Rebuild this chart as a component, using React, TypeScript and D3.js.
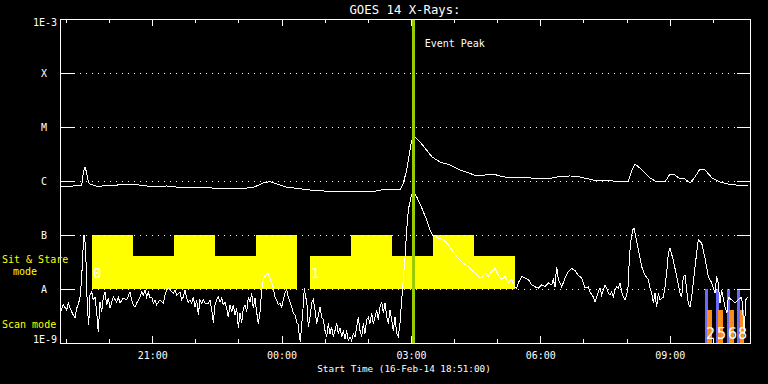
import React from 'react';
import * as d3 from 'd3';

const TITLE = 'GOES 14 X-Rays:';
const X_TITLE = 'Start Time (16-Feb-14 18:51:00)';
const START_CLOCK_HOUR = 18 + 51 / 60;
const SPAN_HOURS = 16;
const EVENT_PEAK_HOUR = 8.2;

const levelValues = [1e-3, 1e-4, 1e-5, 1e-6, 1e-7, 1e-8, 1e-9];
const levelLabels = ['1E-3', 'X', 'M', 'C', 'B', 'A', '1E-9'];
const gridLevels = [1e-4, 1e-5, 1e-6, 1e-7, 1e-8];

// GOES 1-8 Å channel: [hours since start, W/m²]
const longChannel: [number, number][] = [
  [0.016, 8.1e-7], [0.155, 7.8e-7], [0.308, 8.1e-7], [0.503, 8.4e-7], [0.54, 1.41e-6], [0.58, 1.82e-6],
  [0.619, 1.41e-6], [0.656, 9.6e-7], [0.696, 8.8e-7], [0.888, 7.8e-7], [1.083, 8.4e-7], [1.315, 8.4e-7],
  [1.584, 8.8e-7], [1.855, 8.4e-7], [2.163, 7.8e-7], [2.474, 8.1e-7], [2.627, 7.8e-7], [2.938, 7.5e-7],
  [3.402, 7.5e-7], [3.865, 7.2e-7], [4.25, 7.3e-7], [4.482, 7.6e-7], [4.714, 9.2e-7], [4.87, 9.7e-7],
  [5.025, 8.8e-7], [5.257, 7.7e-7], [5.489, 7.3e-7], [5.797, 6.8e-7], [6.145, 6.5e-7], [6.609, 6.3e-7],
  [7.072, 6.3e-7], [7.304, 6.5e-7], [7.536, 7.0e-7], [7.884, 6.9e-7], [7.961, 9.1e-7], [8.039, 1.6e-6],
  [8.155, 5.7e-6], [8.232, 6.6e-6], [8.348, 5.3e-6], [8.626, 2.8e-6], [8.812, 2.25e-6], [9.043, 1.98e-6],
  [9.275, 1.6e-6], [9.67, 1.24e-6], [10.041, 1.35e-6], [10.272, 1.19e-6], [10.899, 1.14e-6], [11.293, 1.09e-6],
  [11.525, 1.19e-6], [11.826, 1.24e-6], [12.058, 1.19e-6], [12.359, 1.04e-6], [12.823, 1.0e-6], [13.171, 9.6e-7],
  [13.264, 1.6e-6], [13.333, 2.07e-6], [13.496, 1.6e-6], [13.681, 1.14e-6], [13.843, 9.6e-7], [14.029, 9.6e-7],
  [14.145, 1.35e-6], [14.261, 1.29e-6], [14.377, 1.09e-6], [14.493, 1.09e-6], [14.609, 9.2e-7], [14.725, 1.19e-6],
  [14.841, 1.67e-6], [14.957, 1.6e-6], [15.119, 1.14e-6], [15.304, 9.6e-7], [15.49, 8.8e-7], [15.699, 8.4e-7],
  [15.954, 8.4e-7],
];

// GOES 0.5-4 Å channel: [hours since start, W/m²]
const shortChannel: [number, number][] = [
  [0, 3.6e-9], [0.077, 5.1e-9], [0.155, 4.1e-9], [0.192, 5.5e-9], [0.232, 4.4e-9], [0.308, 3.3e-9], [0.348, 2.9e-9],
  [0.387, 4.4e-9], [0.424, 5.1e-9], [0.464, 7.1e-9], [0.503, 1.6e-8], [0.526, 4.3e-8], [0.557, 1.0e-7], [0.58, 7.4e-8],
  [0.603, 3.2e-8], [0.619, 1.0e-8], [0.642, 3.7e-9], [0.666, 2.2e-9], [0.696, 7.7e-9], [0.735, 8.8e-9], [0.772, 6.3e-9],
  [0.812, 7.1e-9], [0.851, 3.7e-9], [0.888, 1.6e-9], [0.928, 5.7e-9], [0.967, 3.7e-9], [1.004, 7.1e-9], [1.043, 8.8e-9],
  [1.083, 5.1e-9], [1.12, 6.8e-9], [1.159, 4.4e-9], [1.199, 5.7e-9], [1.236, 7.1e-9], [1.315, 5.7e-9], [1.352, 7.1e-9],
  [1.391, 5.5e-9], [1.468, 6.8e-9], [1.547, 6.3e-9], [1.623, 8.8e-9], [1.663, 6.3e-9], [1.7, 5.1e-9], [1.739, 4.6e-9],
  [1.779, 5.5e-9], [1.855, 7.1e-9], [1.895, 8.8e-9], [1.932, 7.7e-9], [1.971, 9.6e-9], [2.01, 7.1e-9], [2.048, 8.8e-9],
  [2.087, 6.8e-9], [2.126, 7.1e-9], [2.163, 5.5e-9], [2.203, 6.3e-9], [2.242, 5.1e-9], [2.319, 6.3e-9], [2.396, 5.5e-9],
  [2.435, 7.7e-9], [2.474, 9.6e-9], [2.511, 1.04e-8], [2.551, 9.6e-9], [2.59, 8.8e-9], [2.627, 8.4e-9], [2.667, 9.6e-9],
  [2.706, 7.7e-9], [2.783, 8.8e-9], [2.822, 6.3e-9], [2.859, 7.1e-9], [2.899, 9.6e-9], [2.938, 6.8e-9], [2.975, 5.7e-9],
  [3.014, 6.3e-9], [3.054, 5.5e-9], [3.091, 7.1e-9], [3.13, 4.6e-9], [3.17, 6.3e-9], [3.207, 3.3e-9], [3.246, 6.3e-9],
  [3.286, 5.5e-9], [3.323, 6.3e-9], [3.362, 5.5e-9], [3.439, 5.5e-9], [3.478, 6.3e-9], [3.518, 4.1e-9], [3.555, 2.4e-9],
  [3.594, 5.1e-9], [3.634, 6.3e-9], [3.671, 7.1e-9], [3.71, 5.7e-9], [3.75, 6.8e-9], [3.787, 5.1e-9], [3.826, 5.7e-9],
  [3.866, 4.4e-9], [3.903, 3.0e-9], [3.942, 5.1e-9], [3.982, 3.7e-9], [4.019, 5.1e-9], [4.058, 3.3e-9], [4.097, 4.4e-9],
  [4.135, 1.9e-9], [4.174, 3.6e-9], [4.213, 2.4e-9], [4.25, 4.4e-9], [4.29, 5.1e-9], [4.329, 3.7e-9], [4.366, 7.1e-9],
  [4.406, 5.7e-9], [4.445, 8.4e-9], [4.482, 4.4e-9], [4.522, 6.8e-9], [4.561, 3.7e-9], [4.598, 2.3e-9], [4.638, 3.7e-9],
  [4.677, 9.6e-9], [4.714, 1.5e-8], [4.754, 1.7e-8], [4.816, 2.0e-8], [4.87, 1.6e-8], [4.909, 1.3e-8], [4.946, 1.04e-8],
  [4.986, 7.1e-9], [5.025, 6.3e-9], [5.062, 5.1e-9], [5.101, 5.5e-9], [5.141, 4.6e-9], [5.178, 6.3e-9], [5.217, 8.4e-9],
  [5.257, 9.6e-9], [5.294, 7.1e-9], [5.333, 5.7e-9], [5.373, 4.6e-9], [5.41, 3.6e-9], [5.449, 3.3e-9], [5.489, 2.4e-9],
  [5.526, 2.2e-9], [5.549, 1.3e-9], [5.572, 1.05e-9], [5.605, 2.2e-9], [5.642, 5.1e-9], [5.665, 1.04e-8], [5.698, 6.8e-9],
  [5.72, 6.3e-9], [5.758, 2.0e-9], [5.797, 3.0e-9], [5.836, 5.5e-9], [5.874, 6.3e-9], [5.913, 4.1e-9], [5.952, 2.3e-9],
  [5.99, 3.3e-9], [6.029, 4.6e-9], [6.068, 3.0e-9], [6.106, 2.7e-9], [6.145, 1.7e-9], [6.184, 1.3e-9], [6.222, 2.3e-9],
  [6.261, 1.5e-9], [6.3, 2.0e-9], [6.338, 1.3e-9], [6.377, 1.7e-9], [6.416, 2.3e-9], [6.453, 1.5e-9], [6.493, 1.9e-9],
  [6.532, 1.3e-9], [6.569, 1.7e-9], [6.609, 1.2e-9], [6.648, 1.7e-9], [6.685, 1.1e-9], [6.725, 1.3e-9], [6.764, 1.1e-9],
  [6.801, 1.5e-9], [6.841, 1.3e-9], [6.88, 2.0e-9], [6.917, 3.0e-9], [6.957, 1.7e-9], [6.996, 1.3e-9], [7.033, 2.3e-9],
  [7.072, 1.5e-9], [7.112, 2.7e-9], [7.149, 3.0e-9], [7.188, 2.3e-9], [7.228, 3.6e-9], [7.265, 2.3e-9], [7.304, 3.0e-9],
  [7.344, 4.1e-9], [7.381, 2.7e-9], [7.42, 4.6e-9], [7.46, 5.7e-9], [7.497, 3.6e-9], [7.536, 5.5e-9], [7.576, 3.0e-9],
  [7.613, 2.3e-9], [7.652, 4.1e-9], [7.692, 2.7e-9], [7.729, 1.7e-9], [7.768, 3.0e-9], [7.808, 1.5e-9], [7.845, 1.3e-9],
  [7.884, 2.3e-9], [7.923, 6.3e-9], [7.961, 1.5e-8], [8.0, 3.9e-8], [8.039, 1.24e-7], [8.077, 2.9e-7], [8.139, 5.1e-7],
  [8.186, 6.3e-7], [8.271, 5.1e-7], [8.387, 3.2e-7], [8.503, 1.9e-7], [8.58, 1.24e-7], [8.656, 9.2e-8], [8.696, 1.0e-7],
  [8.772, 8.8e-8], [8.888, 8.1e-8], [8.967, 7.1e-8], [9.043, 6.0e-8], [9.12, 4.8e-8], [9.236, 3.7e-8], [9.352, 3.0e-8],
  [9.468, 2.6e-8], [9.584, 2.1e-8], [9.7, 1.7e-8], [9.778, 1.6e-8], [9.855, 2.0e-8], [9.932, 1.7e-8], [10.009, 2.1e-8],
  [10.087, 2.4e-8], [10.164, 1.8e-8], [10.242, 1.5e-8], [10.319, 1.7e-8], [10.396, 1.3e-8], [10.473, 1.5e-8],
  [10.551, 1.1e-8], [10.59, 1.04e-8], [10.628, 1.3e-8], [10.705, 1.7e-8], [10.783, 1.6e-8], [10.859, 1.5e-8],
  [10.938, 1.2e-8], [11.014, 1.1e-8], [11.091, 1.04e-8], [11.17, 1.2e-8], [11.246, 1.1e-8], [11.323, 1.3e-8],
  [11.401, 1.2e-8], [11.439, 1.5e-8], [11.478, 1.1e-8], [11.517, 2.6e-8], [11.555, 1.5e-8], [11.594, 1.3e-8],
  [11.633, 1.1e-8], [11.67, 1.3e-8], [11.71, 1.6e-8], [11.787, 2.1e-8], [11.865, 2.4e-8], [11.942, 2.2e-8],
  [12.019, 1.8e-8], [12.097, 1.6e-8], [12.135, 1.3e-8], [12.174, 1.04e-8], [12.251, 1.1e-8], [12.29, 8.8e-9],
  [12.366, 7.1e-9], [12.406, 5.7e-9], [12.445, 7.1e-9], [12.482, 8.8e-9], [12.522, 1.04e-8], [12.561, 7.7e-9],
  [12.598, 9.6e-9], [12.638, 1.2e-8], [12.677, 1.04e-8], [12.714, 8.4e-9], [12.754, 7.7e-9], [12.793, 8.8e-9],
  [12.83, 7.1e-9], [12.87, 9.6e-9], [12.909, 1.1e-8], [12.946, 1.04e-8], [12.986, 1.3e-8], [13.025, 8.8e-9],
  [13.062, 7.1e-9], [13.101, 6.3e-9], [13.141, 7.7e-9], [13.178, 1.2e-8], [13.201, 3.7e-8], [13.233, 7.4e-8],
  [13.28, 1.24e-7], [13.31, 1.35e-7], [13.356, 8.8e-8], [13.41, 5.3e-8], [13.488, 2.6e-8], [13.565, 1.8e-8],
  [13.642, 1.5e-8], [13.681, 1.04e-8], [13.72, 8.4e-9], [13.757, 5.5e-9], [13.797, 8.4e-9], [13.836, 4.6e-9],
  [13.874, 8.4e-9], [13.913, 6.3e-9], [13.99, 7.1e-9], [14.029, 1.1e-8], [14.068, 2.0e-8], [14.106, 4.6e-8],
  [14.145, 5.7e-8], [14.222, 3.4e-8], [14.3, 1.7e-8], [14.377, 8.4e-9], [14.416, 7.1e-9], [14.454, 1.7e-8],
  [14.493, 1.8e-8], [14.532, 9.6e-9], [14.569, 5.5e-9], [14.609, 4.6e-9], [14.648, 7.1e-9], [14.725, 2.6e-8],
  [14.801, 8.1e-8], [14.88, 7.1e-8], [14.957, 3.7e-8], [15.033, 1.7e-8], [15.112, 1.3e-8], [15.188, 8.4e-9],
  [15.227, 1.7e-8], [15.264, 1.3e-8], [15.304, 5.5e-9], [15.343, 9.6e-9], [15.42, 4.6e-9], [15.466, 3.6e-9],
  [15.496, 7.1e-9], [15.575, 6.3e-9], [15.652, 5.5e-9], [15.729, 6.3e-9], [15.809, 7.1e-9], [15.868, 1.5e-9],
  [15.9, 6.3e-9], [15.954, 7.1e-9],
];

// Sit & Stare observation blocks: [start hour, end hour, top flux level]
const sitStareBlocks: [number, number, number][] = [
  [0.742, 1.693, 1e-7], [1.693, 2.643, 4.1e-8], [2.643, 3.594, 1e-7], [3.594, 4.545, 4.1e-8], [4.545, 5.496, 1e-7],
  [5.797, 6.748, 4.1e-8], [6.748, 7.699, 1e-7], [7.699, 8.649, 4.1e-8], [8.649, 9.6, 1e-7], [9.6, 10.551, 4.1e-8],
];
const sitStareIds = ['0', '1'];
const sitStareIdHours = [0.742, 5.797];

// Scan mode rasters
const scanBlue: [number, number][] = [[14.957, 15.03], [15.212, 15.285], [15.467, 15.54], [15.699, 15.772]];
const scanOrange: [number, number][] = [[15.003, 15.12], [15.258, 15.374], [15.514, 15.62], [15.768, 15.868]];
const scanIds = ['2', '5', '6', '8'];

const L = 60, R = 750, T = 19, B = 343;
const FONT = "'DejaVu Sans Mono', monospace";

export default function App() {
  const x = d3.scaleLinear().domain([0, SPAN_HOURS]).range([L, R]);
  const y = d3.scaleLog().domain([1e-9, 1e-3]).range([B, T]);
  const line = d3.line<[number, number]>().x(d => x(d[0])).y(d => y(d[1]));

  const firstTick = Math.ceil(START_CLOCK_HOUR) - START_CLOCK_HOUR;
  const ticks = d3.range(0, SPAN_HOURS).map(i => {
    const h = firstTick + i;
    const clock = (Math.ceil(START_CLOCK_HOUR) + i) % 24;
    return { h, clock, major: clock % 3 === 0 };
  }).filter(t => t.h <= SPAN_HOURS);

  const labelY = (v: number, i: number) => {
    if (i === 0) return y(v) + 4;
    if (i === levelValues.length - 1) return y(v) - 3;
    return y(v) + 1;
  };

  return (
    <svg width={768} height={384} style={{ position: 'absolute', left: 0, top: 0, background: '#000' }}>
      <rect x={0} y={0} width={768} height={384} fill="#000" />
      {sitStareBlocks.map((b, i) => (
        <rect key={'ss' + i} x={x(b[0])} y={y(b[2])} width={x(b[1]) - x(b[0])} height={y(1e-8) - y(b[2])} fill="#ffff00" shapeRendering="crispEdges" />
      ))}
      {sitStareIds.map((t, i) => (
        <text key={'sid' + i} x={x(sitStareIdHours[i]) + 1} y={y(1e-8) - 11} fill="#fff" fontFamily={FONT} fontSize={14}>{t}</text>
      ))}
      {scanBlue.map((b, i) => (
        <rect key={'sb' + i} x={x(b[0])} y={y(1e-8)} width={x(b[1]) - x(b[0])} height={y(1e-9) - y(1e-8)} fill="#6a6aff" shapeRendering="crispEdges" />
      ))}
      {scanOrange.map((b, i) => (
        <rect key={'so' + i} x={x(b[0])} y={y(4.1e-9)} width={x(b[1]) - x(b[0])} height={y(1e-9) - y(4.1e-9)} fill="#ff8c1a" shapeRendering="crispEdges" />
      ))}
      {scanIds.map((t, i) => (
        <text key={'sc' + i} x={x(scanBlue[i][0]) + 1} y={B - 4} fill="#fff" fontFamily={FONT} fontSize={15}>{t}</text>
      ))}
      {gridLevels.map((v, i) => (
        <g key={'g' + i} shapeRendering="crispEdges">
          <line x1={L + 14} x2={R - 13} y1={y(v)} y2={y(v)} stroke="#fff" strokeDasharray="1,5" />
          <line x1={L} x2={L + 14} y1={y(v)} y2={y(v)} stroke="#fff" />
          <line x1={R - 13} x2={R} y1={y(v)} y2={y(v)} stroke="#fff" />
        </g>
      ))}
      <path d={line(longChannel) || ''} fill="none" stroke="#fff" strokeWidth={1} shapeRendering="crispEdges" />
      <path d={line(shortChannel) || ''} fill="none" stroke="#fff" strokeWidth={1} shapeRendering="crispEdges" />
      <line x1={x(EVENT_PEAK_HOUR)} x2={x(EVENT_PEAK_HOUR)} y1={T} y2={B} stroke="#99cc00" strokeWidth={3} shapeRendering="crispEdges" />
      <text x={x(EVENT_PEAK_HOUR) + 11} y={47} fill="#fff" fontFamily={FONT} fontSize={10}>Event Peak</text>
      <rect x={L} y={T} width={R - L} height={B - T} fill="none" stroke="#fff" shapeRendering="crispEdges" />
      {ticks.map((t, i) => (
        <g key={'t' + i} shapeRendering="crispEdges">
          <line x1={x(t.h)} x2={x(t.h)} y1={B} y2={B - (t.major ? 7 : 4)} stroke="#fff" />
          <line x1={x(t.h)} x2={x(t.h)} y1={T} y2={T + (t.major ? 7 : 4)} stroke="#fff" />
          {t.major && (
            <text x={x(t.h)} y={359} fill="#fff" fontFamily={FONT} fontSize={10} textAnchor="middle">
              {String(t.clock).padStart(2, '0') + ':00'}
            </text>
          )}
        </g>
      ))}
      {levelValues.map((v, i) => (
        <text key={'yl' + i} x={i === 0 || i === levelValues.length - 1 ? 57 : 44} y={labelY(v, i)} fill="#fff" fontFamily={FONT} fontSize={10}
          textAnchor={i === 0 || i === levelValues.length - 1 ? 'end' : 'middle'} dominantBaseline="middle">{levelLabels[i]}</text>
      ))}
      <text x={2} y={263} fill="#ffff00" fontFamily={FONT} fontSize={10}>Sit &amp; Stare</text>
      <text x={13} y={275} fill="#ffff00" fontFamily={FONT} fontSize={10}>mode</text>
      <text x={2} y={328} fill="#ffff00" fontFamily={FONT} fontSize={10}>Scan mode</text>
      <text x={(L + R) / 2} y={14} fill="#fff" fontFamily={FONT} fontSize={12.3} textAnchor="middle">{TITLE}</text>
      <text x={404} y={372} fill="#fff" fontFamily={FONT} fontSize={9.3} textAnchor="middle">{X_TITLE}</text>
    </svg>
  );
}
